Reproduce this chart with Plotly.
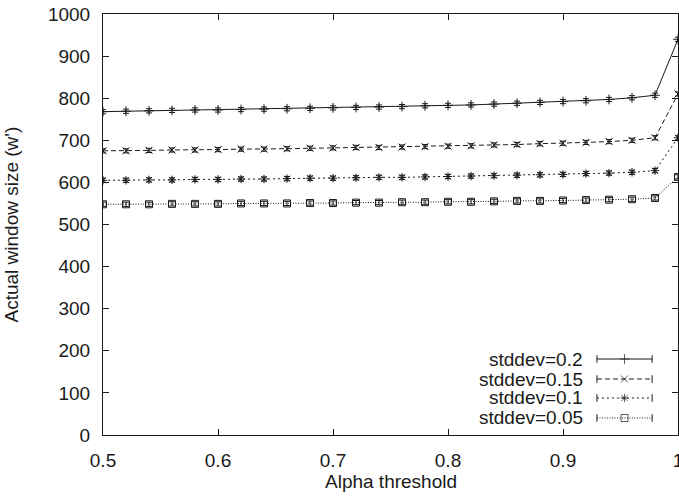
import plotly.graph_objects as go

alpha = [0.50, 0.52, 0.54, 0.56, 0.58, 0.60, 0.62, 0.64, 0.66, 0.68, 0.70, 0.72, 0.74,
         0.76, 0.78, 0.80, 0.82, 0.84, 0.86, 0.88, 0.90, 0.92, 0.94, 0.96, 0.98, 1.00]

sd020 = [768, 769, 770, 771, 772, 772, 773, 774, 775, 776, 777, 778, 779,
         780, 782, 783, 784, 786, 788, 790, 792, 794, 797, 801, 807, 940]
sd015 = [675, 675, 676, 677, 677, 678, 679, 679, 680, 681, 682, 683, 683,
         684, 685, 686, 687, 689, 690, 692, 693, 695, 697, 700, 706, 810]
sd010 = [605, 605, 606, 606, 607, 607, 608, 608, 609, 610, 610, 611, 612,
         612, 613, 614, 615, 616, 617, 618, 619, 621, 622, 624, 628, 706]
sd005 = [548, 548, 548, 549, 549, 549, 550, 550, 550, 551, 551, 552, 552,
         553, 553, 554, 554, 555, 556, 556, 557, 558, 559, 560, 563, 613]
err = 5

names = ["stddev=0.2", "stddev=0.15", "stddev=0.1", "stddev=0.05"]
series = [sd020, sd015, sd010, sd005]
symbols = ["cross-thin-open", "x-thin-open", "asterisk-open", "square-open"]
dashes = ["solid", "5px,3px", "2px,3px", "1px,1.5px"]
col = "#1a1a1a"
font = "Liberation Sans, Arial, Helvetica, sans-serif"
fsize = 19

fig = go.Figure()
for name, ys, sym, dsh in zip(names, series, symbols, dashes):
    fig.add_trace(go.Scatter(
        x=alpha, y=ys, name=name, mode="lines+markers",
        line=dict(color=col, width=1, dash=dsh),
        marker=dict(symbol=sym, size=7, color=col, line=dict(color=col, width=1)),
        error_y=dict(type="constant", value=err, color=col, thickness=1, width=3),
        showlegend=False,
    ))

# gnuplot-style key (text right-aligned, sample on the right)
rows = [0.1805, 0.133, 0.0879, 0.0404]
lx0, lx1 = 0.859, 0.955
for name, sym, dsh, r in zip(names, symbols, dashes, rows):
    fig.add_trace(go.Scatter(
        x=[lx0, (lx0 + lx1) / 2, lx1], y=[r, r, r], xaxis="x2", yaxis="y2",
        mode="lines+markers", showlegend=False, hoverinfo="skip",
        line=dict(color=col, width=1, dash=dsh),
        marker=dict(symbol=sym, size=[0, 7, 0], color=col, line=dict(color=col, width=1)),
        error_y=dict(type="data", array=[0.009, 0, 0.009], color=col, thickness=1, width=0),
    ))
    fig.add_annotation(x=0.838, y=r, xref="paper", yref="paper", text=name,
                       showarrow=False, xanchor="right", yanchor="middle",
                       font=dict(family=font, size=fsize, color=col))

# axis titles
fig.add_annotation(x=0.5, y=-0.1116, xref="paper", yref="paper", text="Alpha threshold",
                   showarrow=False, xanchor="center", yanchor="middle",
                   font=dict(family=font, size=fsize, color=col))
fig.add_annotation(x=-0.16, y=0.5, xref="paper", yref="paper", text="Actual window size (w')",
                   showarrow=False, xanchor="center", yanchor="middle", textangle=-90,
                   font=dict(family=font, size=fsize, color=col))

axis_common = dict(showline=True, linecolor=col, linewidth=1, mirror="ticks",
                   ticks="inside", ticklen=6, tickcolor=col, tickwidth=1,
                   showgrid=False, zeroline=False, ticklabelstandoff=8,
                   automargin=False,
                   tickfont=dict(family=font, size=fsize, color=col))

fig.update_layout(
    width=679, height=499,
    margin=dict(l=103, r=1, t=14, b=64),
    paper_bgcolor="white", plot_bgcolor="white",
    xaxis=dict(range=[0.5, 1.0], tickvals=[0.5, 0.6, 0.7, 0.8, 0.9, 1.0],
               ticktext=["0.5", "0.6", "0.7", "0.8", "0.9", "1"],
               ticklabeloverflow="allow", **axis_common),
    yaxis=dict(range=[0, 1000], dtick=100, ticklabeloverflow="allow", **axis_common),
    xaxis2=dict(range=[0, 1], overlaying="x", visible=False, domain=[0, 1]),
    yaxis2=dict(range=[0, 1], overlaying="y", visible=False),
)

fig.write_html("out.html")
